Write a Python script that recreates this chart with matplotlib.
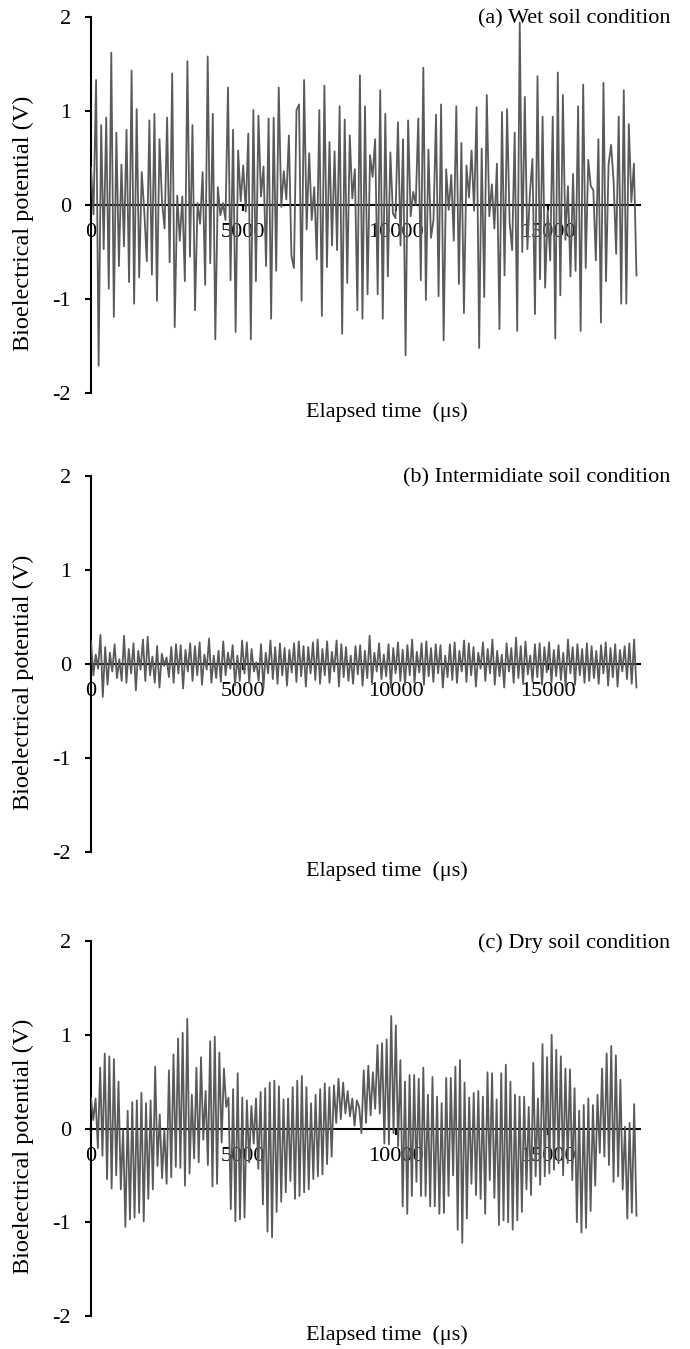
import matplotlib
matplotlib.use("Agg")
import matplotlib.pyplot as plt
import numpy as np

plt.rcParams['font.family'] = ['Liberation Serif', 'DejaVu Serif']
plt.rcParams['axes.unicode_minus'] = False

# elapsed time span of each record (us)
t_end = 17900

wet = [0.40, -0.10, 1.33, -1.71, 0.85, -0.47, 0.93, -0.89, 1.62, -1.19, 0.77, -0.65, 0.43, -0.44,
       0.80, -0.82, 1.43, -1.05, 1.02, -0.77, 0.35, -0.07, -0.60, 0.90, -0.74, 0.97, -1.02, 0.70,
       0.03, -0.25, 0.93, -0.61, 1.40, -1.30, 0.10, -0.38, 0.09, -0.81, 1.53, -0.55, 0.85, -1.12,
       0.02, -0.20, 0.35, -0.85, 1.58, -0.62, 0.97, -1.43, 0.19, -0.11, 0.02, -0.16, 1.25, -0.80,
       0.80, -1.35, 0.58, 0.04, 0.42, -0.07, 0.76, -1.43, 1.01, -0.81, 0.95, 0.09, 0.41, -0.65,
       0.92, -1.21, 0.93, -0.70,
       1.25, -0.02, 0.36, 0.06, 0.74, -0.54, -0.67, 1.01, 1.07, -1.02, 1.33, -0.26, 0.55, -0.16,
       0.19, -0.58, 1.01, -1.18, 1.27, -0.66, 0.67, -0.43, 0.57, -0.48, 1.05, -1.37, 0.91, -0.83,
       0.74, 0.07, 0.38, -1.12, 1.38, -1.21, 1.05, -0.95, 0.53, 0.30, 0.70, -0.95, 1.22, -1.21,
       0.97, -0.76, 0.56, -0.09, -0.14, 0.88, -0.43, 0.70, -1.60, 0.90, -0.12, 0.14, 0.00, 0.92,
       -0.80, 1.46, -1.01, 0.59, -0.35, -0.16, 0.96, -0.97, 1.07, -1.44, 0.38, -0.05, 0.32, -0.38,
       1.05, -0.84, 0.66, -1.15, 0.42, 0.08, 0.58, -0.06, 1.04,
       -1.52, 0.60, -0.98, 1.17, -0.12, 0.22, -0.25, 0.44, -1.32, 0.99, -0.75, 1.02, -0.18, -0.48,
       0.77, -1.34, 1.94, -0.50, 1.15, -0.47, 0.12, 0.49, -1.16, 1.37, -0.79, 0.94, -0.88, -0.05,
       -0.59, 0.94, -1.42, 1.41, -0.96, 1.17, -0.37, 0.20, -0.76, 0.33, -0.70, 1.05, -1.34, 1.28,
       -0.67, 0.48, 0.20, 0.16, -0.59, 0.70, -1.25, 1.30, -0.81, 0.43, 0.64, 0.25, -0.52, 0.94,
       -1.05, 1.22, -1.05, 0.86, 0.03, 0.44, -0.75]

intermediate = [0.24, -0.12, 0.10, -0.05, 0.31, -0.35, 0.18, -0.22, 0.12, -0.08, 0.21, -0.15, 0.05,
                -0.18, 0.30, -0.20, 0.16, -0.10, 0.22, -0.28, 0.14, -0.06, 0.26, -0.18, 0.29, -0.12,
                0.08, -0.20, 0.19, -0.25, 0.11, -0.02, 0.07, -0.14, 0.18, -0.20, 0.21, -0.10, 0.20,
                -0.26, 0.15, -0.08, 0.22, -0.18, 0.19, -0.12, 0.23, -0.22, 0.10, -0.06, 0.27, -0.20,
                0.09, -0.15, 0.14, -0.19, 0.24, -0.12, 0.12, -0.05, 0.20, -0.23, 0.09, -0.18, 0.25,
                -0.10, 0.23, -0.20, 0.16, -0.08, 0.02, -0.18, 0.21, -0.26, 0.12, -0.10, 0.25, -0.16,
                0.18, -0.21, 0.22, -0.12, 0.17, -0.23, 0.15, -0.09, 0.22, -0.19, 0.24, -0.13, 0.19,
                -0.24, 0.18, -0.10, 0.23, -0.17, 0.26, -0.21, 0.16, -0.12, 0.24, -0.20, 0.13, -0.08,
                0.25, -0.24, 0.21, -0.14, 0.18, -0.18, 0.09, -0.21, 0.19, -0.11, 0.20, -0.23, 0.14,
                -0.15, 0.30, -0.20, 0.12, -0.08, 0.22, -0.16, 0.10, -0.13, 0.21, -0.25, 0.17, -0.10,
                0.23, -0.18, 0.15, -0.22, 0.20, -0.12, 0.26, -0.20, 0.13, -0.09, 0.22, -0.22, 0.24,
                -0.13, 0.17, -0.19, 0.21, -0.10, 0.20, -0.25, 0.09, -0.14, 0.21, -0.17, 0.23, -0.20,
                0.14, -0.08, 0.25, -0.19, 0.22, -0.12, 0.18, -0.24, 0.12, -0.05, 0.23, -0.18, 0.16,
                -0.10, 0.26, -0.22, 0.14, -0.13, 0.10, -0.25, 0.22, -0.08, 0.17, -0.20, 0.28, -0.15,
                0.19, -0.21, 0.24, -0.11, 0.09, -0.19, 0.21, -0.14, 0.22, -0.22, 0.18, -0.09, 0.23,
                -0.20, 0.15, -0.13, 0.20, -0.17, 0.12, -0.24, 0.26, -0.10, 0.18, -0.22, 0.21, -0.12,
                0.16, -0.20, 0.22, -0.18, 0.19, -0.15, 0.14, -0.21, 0.20, -0.10, 0.23, -0.23, 0.17,
                -0.14, 0.21, -0.24, 0.15, -0.08, 0.19, -0.16, 0.22, -0.21, 0.26, -0.25]

dry = [0.32, 0.09, 0.32, -0.21, 0.65, -0.29, 0.80, -0.54, 0.77, -0.64, 0.74, -0.50, 0.50, -0.65,
       -0.01, -1.05, 0.19, -0.97, 0.28, -0.95, 0.30, -0.90, 0.38, -0.99, 0.27, -0.75, 0.30, -0.65,
       0.66, -0.40, 0.15, -0.53, -0.01, -0.59, 0.62, -0.52, 0.79, -0.41, 0.96, -0.42, 1.02, -0.61,
       1.17, -0.48, 0.36, -0.32, 0.65, -0.36, 0.76, -0.12, 0.40, -0.39, 0.93, -0.62, 0.98, -0.59,
       0.81, -0.15, 0.64, 0.23, 0.33, -0.86, 0.42, -0.99, 0.59, -0.97, 0.33, -0.95, 0.30, -0.36,
       0.24, -0.16, 0.32, -0.43, 0.39, -0.81, 0.43, -1.10, 0.49, -1.16, 0.51, -0.89, 0.45, -0.78,
       0.31,
       -0.68, 0.32, -0.56, 0.44, -0.75, 0.51, -0.72, 0.56, -0.68, 0.44, -0.65, 0.27, -0.54, 0.36,
       -0.51, 0.42, -0.49, 0.48, -0.38, 0.44, -0.30, 0.46, 0.06, 0.53, 0.10, 0.49, 0.16, 0.40,
       0.13, 0.32, 0.03, 0.30, 0.23, -0.05, 0.62, 0.06, 0.67, 0.14, 0.60, 0.21, 0.89, 0.16, 0.91,
       -0.16, 0.95, -0.17, 1.20, -0.05, 1.10, -0.19, 0.73, -0.83, 0.50, -0.91, 0.57, -0.72, 0.57,
       -0.57, 0.53, -0.72, 0.65, -0.72, 0.36, -0.83, 0.55, -0.83, 0.34, -0.91, 0.27, -0.90, 0.54,
       -0.72, 0.54, -0.50, 0.66, -1.08, 0.73, -1.22, 0.49, -0.96, 0.33, -0.59, 0.38, -0.71, 0.40,
       -0.75, 0.34, -0.91, 0.60, -0.55, 0.59, -0.74, 0.31, -1.03, 0.59, -0.98, 0.68, -1.00, 0.50,
       -1.08, 0.36, -0.98, 0.34, -0.89, 0.34, -0.65, 0.23, -0.71, 0.70, -0.51, 0.32, -0.60, 0.90,
       -0.51, 0.76, -0.48, 1.00, -0.44, 0.84, -0.37, 0.77, -0.50, 0.64, -0.37, 0.63, -0.55, 0.43,
       -1.00, 0.19, -1.11, 0.25, -1.06, 0.32, -0.88, 0.25, -0.61, 0.36, -0.26, 0.64, -0.30, 0.80,
       -0.39, 0.88, -0.57, 0.78, -0.51, 0.52, -0.65, 0.02, -0.96, 0.06, -0.90, 0.26, -0.93]

titles = ['(a) Wet soil condition', '(b) Intermidiate soil condition', '(c) Dry soil condition']
series = [wet, intermediate, dry]
x_ticks = [0, 5000, 10000, 15000]
y_ticks = [-2, -1, 0, 1, 2]

W, H = 690, 1349
fig = plt.figure(figsize=(W / 100, H / 100), dpi=100)

# pixel rows of y=2 and y=-2 for each panel
panel_px = [(17, 393), (476, 852), (941, 1316)]
fs = 16

for (top, bot), vals, title in zip(panel_px, series, titles):
    ax = fig.add_axes([91 / W, 1 - bot / H, (639.5 - 91) / W, (bot - top) / H])
    t = np.linspace(0, t_end, len(vals))
    ax.plot(t, vals, color='#5a5a5a', lw=1.3, zorder=3)
    ax.set_xlim(0, 18000)
    ax.set_ylim(-2, 2)
    ax.spines['top'].set_visible(False)
    ax.spines['right'].set_visible(False)
    ax.spines['bottom'].set_position(('data', 0))
    ax.spines['bottom'].set_linewidth(1.5)
    ax.spines['left'].set_linewidth(1.5)
    ax.set_xticks(x_ticks)
    ax.set_xticklabels([str(v) for v in x_ticks])
    ax.set_yticks(y_ticks)
    ax.set_yticklabels([str(v) for v in y_ticks])
    ax.tick_params(axis='y', direction='out', length=4.5, width=1.5, pad=10, labelsize=fs)
    ax.tick_params(axis='x', direction='out', length=4, width=1.5, pad=9, labelsize=fs)
    ax.patch.set_alpha(0)
    mid = (top + bot) / 2
    fig.text(670 / W, 1 - (top + 2) / H, title, ha='right', va='center', fontsize=fs)
    fig.text(23 / W, 1 - (mid + 18) / H, 'Bioelectrical potential (V)', rotation=90,
             ha='center', va='center', fontsize=17.5)
    fig.text(387 / W, 1 - (bot + 19) / H, 'Elapsed time  (\u03bcs)', ha='center', va='center',
             fontsize=fs)

fig.savefig('out.png', dpi=100)
